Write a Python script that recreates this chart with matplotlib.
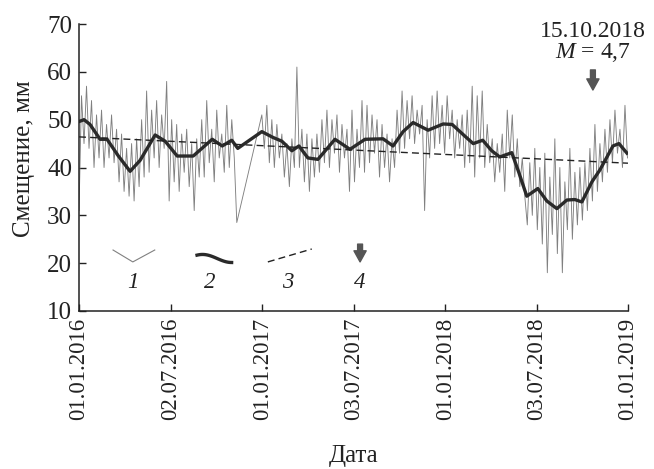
import matplotlib
matplotlib.use("Agg")
import matplotlib.pyplot as plt
import numpy as np
import pandas as pd

plt.rcParams['font.family'] = ['Liberation Serif', 'DejaVu Serif']
plt.rcParams['mathtext.fontset'] = 'custom'
plt.rcParams['mathtext.it'] = 'Liberation Serif:italic'
plt.rcParams['mathtext.rm'] = 'Liberation Serif'

# 1 - daily displacement (sampled every 5 days), two parts with a gap in Oct-Dec 2016
raw_start_1 = "2016-01-01"
raw_vals_1 = [31, 55, 45, 57, 44, 54, 40, 51, 42, 52, 40, 49, 42,
              51, 41, 48, 37, 47, 35, 44, 34, 45, 33, 46, 36, 50, 38,
              56, 39, 52, 42, 54, 40, 51, 44, 58, 33,
              50, 37, 49, 35, 47, 39, 48, 36, 45, 31, 46, 38,
              50, 38, 54, 41, 48, 37, 52, 42, 47, 39, 53, 40, 50, 42, 28.5]
raw_start_2 = "2016-12-31"
raw_vals_2 = [51, 44, 53, 41, 50, 40, 49, 42, 47, 38, 45, 36, 46, 40, 61, 40,
              48, 37, 47, 35, 46, 38, 47, 39,
              50, 41, 52, 40, 50, 43, 51, 39, 49, 42, 48, 35, 52,
              37, 48, 40, 54, 39, 53, 41, 51, 43, 50, 38, 49, 40, 47, 37, 46, 40,
              52, 43, 56, 44, 54, 46, 55, 45, 52, 47, 53, 31, 50, 42,
              55, 44, 56, 45, 53, 43, 55, 46, 52, 42, 50, 44, 51, 40,
              52, 41, 57, 38, 55, 42, 56, 40, 49, 41, 46, 37, 45, 39,
              47, 35, 52, 42, 51, 38, 46, 36, 42, 34,
              28, 41, 30, 44, 27, 40, 24, 43, 18, 38, 26, 46, 22, 40, 18, 37,
              27, 44, 25, 39, 28, 40,
              29, 41, 31, 44, 33, 49, 35, 45, 37, 48, 39, 50, 41, 52, 43, 48, 40, 53, 42]

# 2 - smoothed curve (day offset from 01.01.2016, mm)
smooth_days = [0, 10, 22, 42, 56, 78, 102, 122, 152, 172, 196, 228, 266, 286, 305, 317,
               365, 387, 405, 425, 439, 457, 477, 511, 541, 571, 607, 627, 647, 667,
               697, 727, 745, 771, 787, 806, 824, 840, 864, 878, 894, 916, 934, 954,
               974, 990, 1004, 1024, 1040, 1066, 1078, 1094]
smooth_vals = [49.6, 50.0, 49.0, 45.9, 45.9, 42.5, 39.2, 41.5, 46.8, 45.5, 42.4, 42.4,
               45.9, 44.5, 45.7, 44.0,
               47.5, 46.3, 45.5, 43.5, 44.5, 42.0, 41.7, 45.9, 43.8, 45.9, 46.0, 44.5,
               47.5, 49.4, 47.8, 49.1, 49.0, 46.5, 45.0, 45.7, 43.5, 42.2, 43.1, 39.0,
               34.0, 35.6, 33.0, 31.4, 33.2, 33.3, 32.8, 37.0, 39.5, 44.5, 45.0, 43.0]

# 3 - linear trend
trend_dates = ["2016-01-01", "2019-01-01"]
trend_vals = [46.4, 40.9]

# 4 - event
event_date = "2018-10-15"
event_text = "15.10.2018"
event_mag = "$M$ = 4,7"

xtick_dates = ["2016-01-01", "2016-07-02", "2017-01-01", "2017-07-03", "2018-01-01",
               "2018-07-03", "2019-01-01"]
xtick_labels = ["01.01.2016", "02.07.2016", "01.01.2017", "03.07.2017", "01.01.2018",
                "03.07.2018", "01.01.2019"]

raw_dates = list(pd.date_range(raw_start_1, periods=len(raw_vals_1), freq="5D")) + \
    list(pd.date_range(raw_start_2, periods=len(raw_vals_2), freq="5D"))
raw_vals = raw_vals_1 + raw_vals_2
smooth_dates = pd.Timestamp("2016-01-01") + pd.to_timedelta(smooth_days, unit="D")

fig = plt.figure(figsize=(6.54, 4.69), dpi=100)
ax = fig.add_axes([0.1208, 0.3369, 0.8394, 0.6119])

ink = '#222222'
ax.plot(raw_dates, raw_vals, color='#808080', lw=0.65)
ax.plot(smooth_dates, smooth_vals, color='#2a2a2a', lw=2.4)
ax.plot(pd.to_datetime(trend_dates), trend_vals, color='#222222', lw=1.0, dashes=(5, 3))

ax.set_xlim(pd.Timestamp("2016-01-01"), pd.Timestamp("2019-01-01"))
ax.set_ylim(10, 70)
ax.set_yticks(range(10, 71, 10))
ax.set_xticks(pd.to_datetime(xtick_dates))
ax.set_xticklabels(xtick_labels, rotation=90)
ax.tick_params(direction='in', length=5, width=1, colors=ink)
ax.tick_params(axis='x', pad=5, labelsize=16.5)
ax.tick_params(axis='y', pad=5, labelsize=18)
for s in ['top', 'right']:
    ax.spines[s].set_visible(False)
for s in ['left', 'bottom']:
    ax.spines[s].set_color(ink)
    ax.spines[s].set_linewidth(1.1)

ax.set_ylabel("Смещение, мм", fontsize=18, color=ink, va='center')
ax.yaxis.set_label_coords(-0.100, 0.531)
ax.set_xlabel("Дата", fontsize=18, color=ink, va='center')
ax.xaxis.set_label_coords(0.5, -0.505)

# event arrow and text
ex = pd.Timestamp(event_date) + pd.Timedelta(days=8)
ax.annotate('', xy=(ex, 56.2), xytext=(ex, 60.4),
            arrowprops=dict(arrowstyle='simple,head_width=0.55,head_length=0.5,tail_width=0.22',
                            color='#555555', mutation_scale=16, shrinkA=0, shrinkB=0),
            annotation_clip=False)
ax.text(ex, 68.4, event_text, ha='center', va='center', fontsize=17, color=ink, clip_on=False)
ax.text(ex, 64.0, event_mag, ha='center', va='center', fontsize=17, color=ink, clip_on=False)

# legend glyphs
tr = ax.transAxes
ax.plot([0.062, 0.098, 0.138], [0.2125, 0.171, 0.2125], transform=tr, color='#808080', lw=0.8)
gx = np.linspace(0.215, 0.278, 30)
gy = 0.183 + 0.014 * np.cos((gx - 0.225) / 0.053 * np.pi)
ax.plot(gx, gy, transform=tr, color='#2a2a2a', lw=2.4)
ax.plot([0.344, 0.424], [0.171, 0.216], transform=tr, color='#222222', lw=1.0, dashes=(5, 3))
ax.annotate('', xy=(0.512, 0.171), xytext=(0.512, 0.233), xycoords=tr,
            arrowprops=dict(arrowstyle='simple,head_width=0.55,head_length=0.5,tail_width=0.22',
                            color='#555555', mutation_scale=16, shrinkA=0, shrinkB=0))
for lx, lab in zip([0.098, 0.239, 0.381, 0.512], ["1", "2", "3", "4"]):
    ax.text(lx, 0.0976, lab, transform=tr, ha='center', va='center', fontsize=16.5,
            style='italic', color=ink)

fig.savefig("out.png", dpi=100)
